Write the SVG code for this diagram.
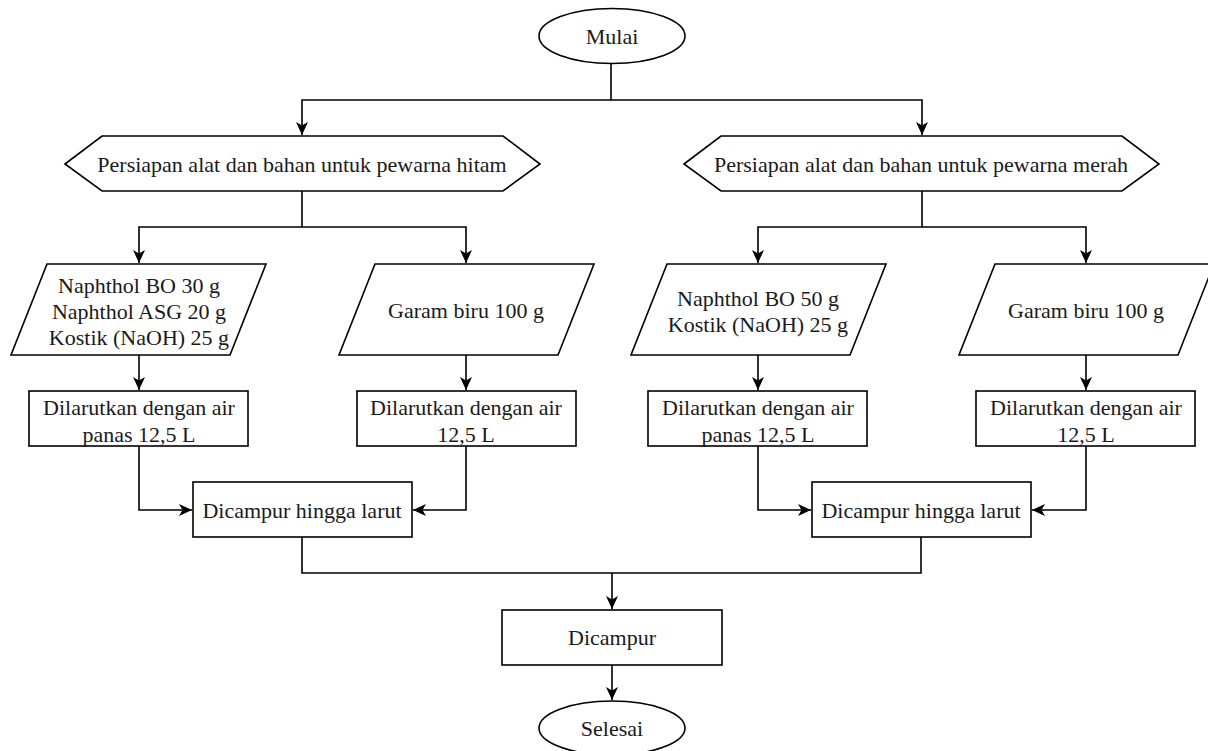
<svg xmlns="http://www.w3.org/2000/svg" width="1208" height="751" viewBox="0 0 1208 751" font-family="'Liberation Serif', 'Times New Roman', 'DejaVu Serif', serif">
<style>
.s{fill:#fff;stroke:#000;stroke-width:1.6}
.c{fill:none;stroke:#000;stroke-width:1.6}
.t{font-family:'Liberation Serif','Times New Roman','DejaVu Serif',serif;font-size:22px;fill:#1a1a1a;text-anchor:middle;dominant-baseline:central}
</style>
<defs>
<marker id="ar" markerUnits="userSpaceOnUse" markerWidth="14" markerHeight="14" refX="13" refY="7" orient="auto">
<path d="M0,1 L13,7 L0,13 L3.5,7 z" fill="#000"/>
</marker>
</defs>
<rect width="1208" height="751" fill="#fff"/>
<g id="connectors">
<path class="c" d="M611,63 V100 H302 V135" marker-end="url(#ar)"/>
<path class="c" d="M611,100 H922 V135" marker-end="url(#ar)"/>
<path class="c" d="M302,191 V227 H139 V263" marker-end="url(#ar)"/>
<path class="c" d="M302,227 H466 V263" marker-end="url(#ar)"/>
<path class="c" d="M922,191 V227 H758 V263" marker-end="url(#ar)"/>
<path class="c" d="M922,227 H1086 V263" marker-end="url(#ar)"/>
<path class="c" d="M139,355 V390" marker-end="url(#ar)"/>
<path class="c" d="M466,355 V390" marker-end="url(#ar)"/>
<path class="c" d="M758,355 V390" marker-end="url(#ar)"/>
<path class="c" d="M1086,355 V390" marker-end="url(#ar)"/>
<path class="c" d="M139,446 V510 H192" marker-end="url(#ar)"/>
<path class="c" d="M466,446 V510 H413" marker-end="url(#ar)"/>
<path class="c" d="M758,446 V510 H811" marker-end="url(#ar)"/>
<path class="c" d="M1086,446 V510 H1032" marker-end="url(#ar)"/>
<path class="c" d="M302,537 V573 H921 V537"/>
<path class="c" d="M612,573 V609" marker-end="url(#ar)"/>
<path class="c" d="M612,665 V700" marker-end="url(#ar)"/>
</g>
<g id="mulai">
<ellipse class="s" cx="612" cy="36" rx="73" ry="27.5"/>
<text class="t" x="612" y="36">Mulai</text>
</g>
<g id="prep-hitam">
<polygon class="s" points="65,164 102,136 503,136 540,164 503,191 102,191"/>
<text class="t" x="302" y="164">Persiapan alat dan bahan untuk pewarna hitam</text>
</g>
<g id="prep-merah">
<polygon class="s" points="684,164 721,136 1122,136 1159,164 1122,191 721,191"/>
<text class="t" x="921" y="164">Persiapan alat dan bahan untuk pewarna merah</text>
</g>
<g id="bahan-hitam">
<polygon class="s" points="47,264 266,264 230,355 11,355"/>
<text class="t" x="139" y="285">Naphthol BO 30 g</text>
<text class="t" x="139" y="311">Naphthol ASG 20 g</text>
<text class="t" x="139" y="337">Kostik (NaOH) 25 g</text>
</g>
<g id="garam-hitam">
<polygon class="s" points="375,264 594,264 558,355 339,355"/>
<text class="t" x="466" y="310">Garam biru 100 g</text>
</g>
<g id="bahan-merah">
<polygon class="s" points="667,264 886,264 850,355 631,355"/>
<text class="t" x="758" y="298">Naphthol BO 50 g</text>
<text class="t" x="758" y="324">Kostik (NaOH) 25 g</text>
</g>
<g id="garam-merah">
<polygon class="s" points="995,264 1214,264 1178,355 959,355"/>
<text class="t" x="1086" y="310">Garam biru 100 g</text>
</g>
<g id="larut-1">
<rect class="s" x="29" y="391" width="219" height="55"/>
<text class="t" x="139" y="407">Dilarutkan dengan air</text>
<text class="t" x="139" y="434">panas 12,5 L</text>
</g>
<g id="larut-2">
<rect class="s" x="357" y="391" width="219" height="55"/>
<text class="t" x="466" y="407">Dilarutkan dengan air</text>
<text class="t" x="466" y="434">12,5 L</text>
</g>
<g id="larut-3">
<rect class="s" x="648" y="391" width="219" height="55"/>
<text class="t" x="758" y="407">Dilarutkan dengan air</text>
<text class="t" x="758" y="434">panas 12,5 L</text>
</g>
<g id="larut-4">
<rect class="s" x="976" y="391" width="219" height="55"/>
<text class="t" x="1086" y="407">Dilarutkan dengan air</text>
<text class="t" x="1086" y="434">12,5 L</text>
</g>
<g id="campur-hitam">
<rect class="s" x="193" y="482" width="219" height="55"/>
<text class="t" x="302" y="510">Dicampur hingga larut</text>
</g>
<g id="campur-merah">
<rect class="s" x="812" y="482" width="219" height="55"/>
<text class="t" x="921" y="510">Dicampur hingga larut</text>
</g>
<g id="dicampur">
<rect class="s" x="502" y="610" width="220" height="55"/>
<text class="t" x="612" y="637">Dicampur</text>
</g>
<g id="selesai">
<ellipse class="s" cx="612" cy="728" rx="73" ry="27"/>
<text class="t" x="612" y="728">Selesai</text>
</g>
</svg>
